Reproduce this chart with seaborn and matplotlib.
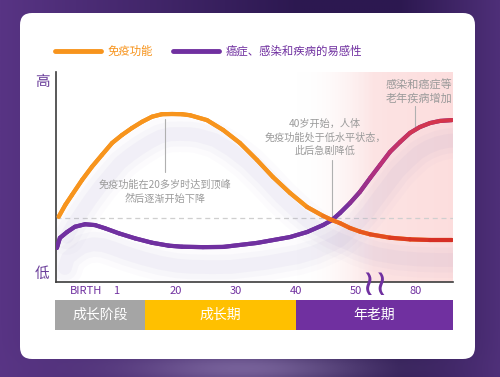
import numpy as np
import pandas as pd
import matplotlib
matplotlib.use("Agg")
import matplotlib.pyplot as plt
import seaborn as sns
from matplotlib.collections import LineCollection
from matplotlib.lines import Line2D
from matplotlib.patches import FancyBboxPatch
from matplotlib.colors import LinearSegmentedColormap, to_rgb
import matplotlib.transforms as mtransforms

# ---------------- data ----------------
immune_x = [0.09, 0.31, 0.53, 0.87, 1.20, 1.53, 1.87, 2.20, 2.53, 2.87, 3.20, 3.53, 3.87, 4.20,
            4.47, 5.03, 5.57, 6.13, 6.70, 7.23, 7.80, 8.37, 8.90, 9.20, 9.47, 9.80, 10.13,
            10.47, 11.13, 11.80, 12.47, 13.20]
immune_y = [31.1, 36.7, 41.4, 48.6, 54.9, 60.5, 66.2, 70.0, 73.3, 76.3, 78.7, 79.9, 80.0, 79.9,
            79.4, 77.1, 72.4, 66.2, 58.1, 50.0, 42.4, 35.7, 31.5, 29.5, 28.0, 25.7, 24.0,
            22.7, 21.1, 20.3, 20.0, 20.0]

suscept_x = [0.03, 0.13, 0.37, 0.63, 0.97, 1.30, 1.63, 2.09, 2.63, 3.20, 3.76, 4.20, 4.90, 5.57,
             6.70, 7.80, 8.37, 8.90, 9.20, 9.47, 9.80, 10.13, 10.47, 10.80, 11.13, 11.47,
             11.80, 12.13, 12.47, 12.80, 13.20]
suscept_y = [16.2, 21.0, 23.8, 26.3, 27.5, 27.1, 25.6, 23.2, 20.8, 18.7, 17.3, 16.8, 16.6, 16.7,
             18.6, 21.4, 23.8, 27.1, 29.5, 32.9, 37.6, 42.9, 49.5, 55.7, 61.9, 66.7,
             71.0, 73.8, 75.7, 76.7, 77.1]

tick_pos = [1, 2, 3, 4, 5, 6, 7, 8, 9, 10, 11, 12]
tick_labels = ["BIRTH", "1", "", "20", "", "30", "", "40", "", "50", "", "80"]

stage_names = ["成长阶段", "成长期", "年老期"]
stage_start = [0.0, 3.0, 8.0]
stage_end = [3.0, 8.0, 13.233]
stage_colors = ["#A5A5A5", "#FFC000", "#7030A0"]

legend_labels = ["免疫功能", "癌症、感染和疾病的易感性"]
ORANGE = "#F7941D"
PURPLE = "#7030A0"

ann1 = "免疫功能在20多岁时达到顶峰\n然后逐渐开始下降"
ann2 = "40岁开始，人体\n免疫功能处于低水平状态，\n此后急剧降低"
ann3 = "感染和癌症等\n老年疾病增加"

# ---------------- style ----------------
sns.set_style("white")
plt.rcParams['font.family'] = ['Noto Sans CJK SC', 'DejaVu Sans']

W, H = 500, 377
fig = plt.figure(figsize=(5, 3.77), dpi=100)

# background axes in pixel coordinates
bg = fig.add_axes([0, 0, 1, 1], zorder=0)
bg.set_xlim(0, W)
bg.set_ylim(H, 0)
bg.axis("off")
xx = np.linspace(0, 1, 200)
yy = np.linspace(0, 1, 160)
X, Y = np.meshgrid(xx, yy)
c_left = np.array(to_rgb("#583484"))
c_mid = np.array(to_rgb("#2c1850"))
c_right = np.array(to_rgb("#4e2f78"))
t = np.clip(X / 0.6, 0, 1)[..., None]
col = c_left * (1 - t) + c_mid * t
t2 = np.clip((X - 0.8) / 0.2, 0, 1)[..., None]
col = col * (1 - t2) + c_right * t2
glow = np.exp(-((X - 0.5) / 0.25) ** 2 - ((Y - 0.98) / 0.05) ** 2)[..., None]
col = col * (1 - 0.5 * glow) + np.array(to_rgb("#b8a4d8")) * 0.5 * glow
bg.imshow(col, extent=[0, W, H, 0], aspect="auto", zorder=0)
card = FancyBboxPatch((20, 13), 455, 346, boxstyle="round,pad=0,rounding_size=12",
                      facecolor="white", edgecolor="none", zorder=1)
bg.add_patch(card)
bg.text(42, 82, "高", color="#6a3d9a", fontsize=10.5, ha="center", va="center", zorder=3)
bg.text(42, 274, "低", color="#6a3d9a", fontsize=10.5, ha="center", va="center", zorder=3)

# ---------------- main axes ----------------
ax = fig.add_axes([56 / W, 1 - 282 / H, (453 - 56) / W, (282 - 72) / H], zorder=2)
ax.set_facecolor("none")

# pink gradient region
pink_cmap = LinearSegmentedColormap.from_list("pk", [(1, 1, 1, 0), (0.99, 0.88, 0.88, 0.9),
                                                      (0.99, 0.87, 0.87, 1.0)])
grad = np.linspace(0, 1, 256)[None, :]
ax.imshow(grad, extent=[8.0, 13.233, 0, 100], cmap=pink_cmap, aspect="auto", zorder=0,
          interpolation="bicubic")
ax.set_xlim(0, 13.233)
ax.set_ylim(0, 100)

ax.axhline(30.5, color="#cfcfcf", lw=0.9, ls=(0, (4, 3)), zorder=1)

# shadows
shadow_tr = mtransforms.offset_copy(ax.transData, fig=fig, x=8, y=-20, units="dots")
for xs, ys in [(immune_x, immune_y), (suscept_x, suscept_y)]:
    for lw, a in [(26, 0.025), (18, 0.04), (10, 0.05)]:
        ax.plot(xs, ys, color="#8e7cc0", lw=lw, alpha=a, transform=shadow_tr,
                solid_capstyle="round", solid_joinstyle="round", zorder=2)

df_imm = pd.DataFrame({"x": immune_x, "y": immune_y})
df_sus = pd.DataFrame({"x": suscept_x, "y": suscept_y})
sns.lineplot(data=df_sus, x="x", y="y", ax=ax, color=PURPLE, lw=3, sort=False,
             estimator=None, zorder=3)
sns.lineplot(data=df_imm, x="x", y="y", ax=ax, color=ORANGE, lw=3, sort=False,
             estimator=None, zorder=4)
for ln in ax.get_lines():
    ln.set_solid_joinstyle("round")
    ln.set_solid_capstyle("round")


def gradient_line(xs, ys, stops, z):
    pts = np.column_stack([xs, ys])
    segs = np.stack([pts[:-1], pts[1:]], axis=1)
    mids = (pts[:-1, 0] + pts[1:, 0]) / 2
    sx = [s[0] for s in stops]
    cols = []
    for m in mids:
        rgb = [np.interp(m, sx, [to_rgb(s[1])[k] for s in stops]) for k in range(3)]
        cols.append(rgb)
    lc = LineCollection(segs, colors=cols, linewidths=3, capstyle="round",
                        joinstyle="round", zorder=z)
    ax.add_collection(lc)


gradient_line(suscept_x, suscept_y,
              [(0, PURPLE), (9.5, PURPLE), (10.8, "#B8307A"), (12.0, "#D23652"), (13.3, "#D63448")], 3)
gradient_line(immune_x, immune_y,
              [(0, ORANGE), (8.3, ORANGE), (9.5, "#EE6A1C"), (11.5, "#DC3A22"), (13.3, "#D42A26")], 4)

# annotation leader lines
ax.plot([3.63, 3.63], [52.5, 77.5], color="#b0b0b0", lw=0.8, zorder=2)
ax.plot([9.2, 9.2], [29.5, 58], color="#b0b0b0", lw=0.8, zorder=2)
ax.plot([11.97, 11.97], [72.5, 84], color="#b0b0b0", lw=0.8, zorder=2)

ax.text(3.63, 42.9, ann1, ha="center", va="center", fontsize=7.3, color="#9a9a9a",
        linespacing=1.4, zorder=5)
ax.text(8.97, 68.7, ann2, ha="center", va="center", fontsize=7.3, color="#9a9a9a",
        linespacing=1.4, zorder=5)
ax.text(13.2, 90.7, ann3, ha="right", va="center", fontsize=8, color="#9a9a9a",
        linespacing=1.2, zorder=5)

# axes styling
for s in ["top", "right"]:
    ax.spines[s].set_visible(False)
for s in ["left", "bottom"]:
    ax.spines[s].set_color("#3c3c3c")
    ax.spines[s].set_linewidth(1.2)
ax.set_yticks([])
ax.set_xticks(tick_pos)
ax.set_xticklabels(tick_labels)
ax.tick_params(axis="x", direction="in", length=4, width=0.8, color="#8a8a8a",
               labelcolor=PURPLE, labelsize=8, pad=3)
ax.set_xlabel("")
ax.set_ylabel("")

# break marks (single text so the two waves stay together)
ax.text(10.62, -1.5, "≀≀", ha="center", va="center", fontsize=26, color=PURPLE,
        clip_on=False, zorder=6, family=["DejaVu Sans"])

# ---------------- stage band ----------------
band = fig.add_axes([55 / W, 1 - 330 / H, (453 - 55) / W, 30 / H], zorder=2)
band.set_xlim(0, 13.233)
band.set_ylim(0, 1)
band.axis("off")
band.barh([0.5] * 3, [e - s for s, e in zip(stage_start, stage_end)], left=stage_start,
          height=1, color=stage_colors, edgecolor="none")
for name, s, e in zip(stage_names, stage_start, stage_end):
    band.text((s + e) / 2, 0.5, name, ha="center", va="center", color="white", fontsize=10)

# ---------------- legend ----------------
handles = [Line2D([], [], color=ORANGE, lw=3.5), Line2D([], [], color=PURPLE, lw=3.5)]
leg = fig.legend(handles, legend_labels, loc="center left", bbox_to_anchor=(55 / W, 1 - 51 / H),
                 frameon=False, ncol=2, handlelength=4.0, handletextpad=0.6,
                 columnspacing=1.8, borderaxespad=0, borderpad=0, fontsize=8.2)
for txt, c in zip(leg.get_texts(), [ORANGE, PURPLE]):
    txt.set_color(c)

fig.savefig("out.png", dpi=100)
